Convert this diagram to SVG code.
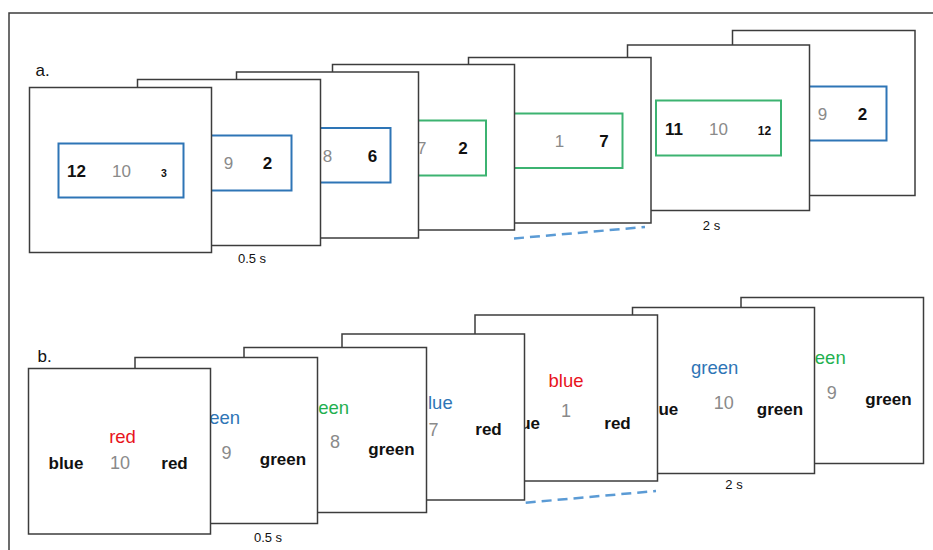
<svg xmlns="http://www.w3.org/2000/svg" width="933" height="550" viewBox="0 0 933 550">
<style>
text{font-family:"Liberation Sans",Arial,sans-serif}
.card{fill:#fff;stroke:#3c3c3c;stroke-width:1.5}
.bbox{fill:none;stroke:#2e75b6;stroke-width:2}
.gbox{fill:none;stroke:#3cb371;stroke-width:2}
.num{font-size:17px}
.blk{fill:#111;font-weight:bold}
.gry{fill:#8a8a8a;font-weight:normal}
.sm{fill:#111;font-weight:bold}
.w{font-size:17px;font-weight:bold;fill:#111}
.cw{font-size:18.5px}
.cred{fill:#e8141c}
.cblue{fill:#2e75b6}
.cgreen{fill:#1fb050}
.gnum{font-size:18px;fill:#8a8a8a}
.lbl{font-size:13px;fill:#111}
.pl{font-size:17px;fill:#111}
.dash{fill:none;stroke:#5b9bd5;stroke-width:2.5;stroke-dasharray:10 6}
.frame{fill:none;stroke:#3c3c3c;stroke-width:1.5}
</style>
<rect width="933" height="550" fill="#fff"/>
<polyline class="frame" points="9,550 9,13 933,13"/>

<g id="panel-a">
<text class="pl" x="35.5" y="76">a.</text>
<g id="a7">
<rect class="card" x="732.5" y="30.5" width="182.5" height="165"/>
<rect class="bbox" x="780" y="86.5" width="106.5" height="54"/>
<text class="num gry" x="822.5" y="120" text-anchor="middle">9</text>
<text class="num blk" x="862.5" y="120" text-anchor="middle">2</text>
</g>
<g id="a6">
<rect class="card" x="627.5" y="45" width="182" height="165.5"/>
<rect class="gbox" x="656" y="100.5" width="125" height="55"/>
<text class="num blk" x="674" y="135" text-anchor="middle">11</text>
<text class="num gry" x="718.5" y="135" text-anchor="middle">10</text>
<text class="sm" x="764.5" y="135" font-size="12" text-anchor="middle">12</text>
</g>
<g id="a5">
<rect class="card" x="468.5" y="57.5" width="182.5" height="165.5"/>
<rect class="gbox" x="500" y="113.5" width="122.5" height="54.5"/>
<text class="num gry" x="559.5" y="147" text-anchor="middle">1</text>
<text class="num blk" x="604" y="147" text-anchor="middle">7</text>
</g>
<g id="a4">
<rect class="card" x="332.5" y="64.5" width="182" height="165.5"/>
<rect class="gbox" x="380" y="120.5" width="106" height="55"/>
<text class="num gry" x="417" y="154">7</text>
<text class="num blk" x="463" y="154" text-anchor="middle">2</text>
</g>
<g id="a3">
<rect class="card" x="236.5" y="72" width="182" height="166"/>
<rect class="bbox" x="280" y="128" width="110.5" height="54.5"/>
<text class="num gry" x="327.5" y="162" text-anchor="middle">8</text>
<text class="num blk" x="372.5" y="162" text-anchor="middle">6</text>
</g>
<g id="a2">
<rect class="card" x="137.5" y="79.5" width="183" height="166"/>
<rect class="bbox" x="180" y="135.5" width="111.5" height="55"/>
<text class="num gry" x="228.5" y="169" text-anchor="middle">9</text>
<text class="num blk" x="267.5" y="169" text-anchor="middle">2</text>
</g>
<g id="a1">
<rect class="card" x="29.5" y="87.5" width="182" height="165"/>
<rect class="bbox" x="58.5" y="143.5" width="125" height="54"/>
<text class="num blk" x="76.5" y="177" text-anchor="middle">12</text>
<text class="num gry" x="121.5" y="177" text-anchor="middle">10</text>
<text class="sm" x="164" y="177" font-size="10.5" text-anchor="middle">3</text>
</g>
<text class="lbl" x="252" y="263" text-anchor="middle">0.5 s</text>
<text class="lbl" x="711.5" y="230" text-anchor="middle">2 s</text>
</g>

<g id="panel-b">
<text class="pl" x="37.5" y="362">b.</text>
<g id="b7">
<rect class="card" x="741" y="297.5" width="182.5" height="166"/>
<text class="cw cgreen" x="845.7" y="363.5" text-anchor="end">een</text>
<text class="gnum" x="831.7" y="398.5" text-anchor="middle">9</text>
<text class="w" x="888.5" y="405" text-anchor="middle">green</text>
</g>
<g id="b6">
<rect class="card" x="632.5" y="307.5" width="182" height="166"/>
<text class="cw cblue" x="714.7" y="374" text-anchor="middle">green</text>
<text class="gnum" x="723.7" y="408.5" text-anchor="middle">10</text>
<text class="w" x="678.3" y="415" text-anchor="end">ue</text>
<text class="w" x="780" y="415" text-anchor="middle">green</text>
</g>
<g id="b5">
<rect class="card" x="475" y="315" width="182.5" height="166"/>
<text class="cw cred" x="566" y="387" text-anchor="middle">blue</text>
<text class="gnum" x="566" y="417" text-anchor="middle">1</text>
<text class="w" x="540" y="428.5" text-anchor="end">ue</text>
<text class="w" x="617.5" y="428.5" text-anchor="middle">red</text>
</g>
<g id="b4">
<rect class="card" x="342" y="334" width="182.5" height="166"/>
<text class="cw cblue" x="452.7" y="408.5" text-anchor="end">lue</text>
<text class="gnum" x="433.5" y="436" text-anchor="middle">7</text>
<text class="w" x="488.5" y="435" text-anchor="middle">red</text>
</g>
<g id="b3">
<rect class="card" x="244" y="347.5" width="182.5" height="165"/>
<text class="cw cgreen" x="349" y="413.5" text-anchor="end">een</text>
<text class="gnum" x="335" y="448" text-anchor="middle">8</text>
<text class="w" x="391.5" y="455" text-anchor="middle">green</text>
</g>
<g id="b2">
<rect class="card" x="135" y="357.5" width="182.5" height="166"/>
<text class="cw cblue" x="240" y="424" text-anchor="end">een</text>
<text class="gnum" x="226.5" y="459" text-anchor="middle">9</text>
<text class="w" x="283" y="465" text-anchor="middle">green</text>
</g>
<g id="b1">
<rect class="card" x="28.5" y="368.5" width="182" height="165.5"/>
<text class="cw cred" x="122.5" y="443" text-anchor="middle">red</text>
<text class="w" x="66" y="469" text-anchor="middle">blue</text>
<text class="gnum" x="120" y="469" text-anchor="middle">10</text>
<text class="w" x="174.5" y="469" text-anchor="middle">red</text>
</g>
<text class="lbl" x="268" y="541.5" text-anchor="middle">0.5 s</text>
<text class="lbl" x="734" y="489" text-anchor="middle">2 s</text>
</g>

<g id="connectors">
<line class="dash" x1="514" y1="238.5" x2="645" y2="227"/>
<line class="dash" x1="525.7" y1="502.7" x2="656" y2="491"/>
</g>
</svg>
